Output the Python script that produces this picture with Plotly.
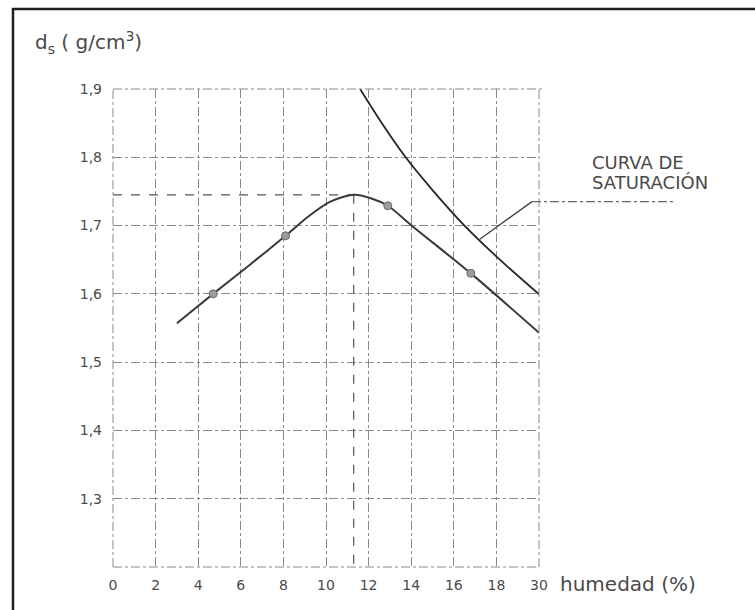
import plotly.graph_objects as go

# Proctor compaction test: dry density vs. moisture content
humidity_measured = [4.7, 8.1, 12.9, 16.8]
density_measured = [1.600, 1.685, 1.729, 1.630]

compaction_humidity = [3.0, 4.7, 6.4, 8.1, 9.2, 10.2, 11.3, 12.1, 12.9, 14.1, 16.8, 20.0]
compaction_density = [1.557, 1.600, 1.642, 1.685, 1.714, 1.735, 1.745, 1.740, 1.729, 1.698, 1.630, 1.543]

saturation_humidity = [11.6, 12.6, 13.74, 15.0, 16.5, 18.2, 20.05]
saturation_density = [1.900, 1.851, 1.800, 1.752, 1.700, 1.649, 1.598]

optimum_humidity = 11.3
max_density = 1.745

x_ticks = [0, 2, 4, 6, 8, 10, 12, 14, 16, 18, 20]
x_labels = ["0", "2", "4", "6", "8", "10", "12", "14", "16", "18", "30"]
y_ticks = [1.3, 1.4, 1.5, 1.6, 1.7, 1.8, 1.9]
y_labels = ["1,3", "1,4", "1,5", "1,6", "1,7", "1,8", "1,9"]

X_RANGE = [0, 20]
Y_RANGE = [1.2, 1.9]

W, H = 755, 610
ML, MR, MT, MB = 113, 216, 89, 43
PW, PH = W - ML - MR, H - MT - MB

FONT = "DejaVu Sans"
TEXT = "#4a4a4a"
GRID = "#8a8a8a"


def px_x(px):
    return (px - ML) / PW


def px_y(py):
    return (H - MB - py) / PH


def dom_x(v):
    return (v - X_RANGE[0]) / (X_RANGE[1] - X_RANGE[0])


def dom_y(v):
    return (v - Y_RANGE[0]) / (Y_RANGE[1] - Y_RANGE[0])


fig = go.Figure()

# optimum moisture / maximum density guides
fig.add_trace(go.Scatter(
    x=[X_RANGE[0], optimum_humidity], y=[max_density, max_density],
    mode="lines", line=dict(color="#555", width=1.3, dash="dash"),
    hoverinfo="skip", showlegend=False))
fig.add_trace(go.Scatter(
    x=[optimum_humidity, optimum_humidity], y=[max_density, Y_RANGE[0]],
    mode="lines", line=dict(color="#555", width=1.2, dash="dash"),
    hoverinfo="skip", showlegend=False))

fig.add_trace(go.Scatter(
    x=saturation_humidity, y=saturation_density, mode="lines",
    line=dict(color="#262626", width=1.8, shape="spline", smoothing=0.8),
    showlegend=False))

fig.add_trace(go.Scatter(
    x=compaction_humidity, y=compaction_density, mode="lines",
    line=dict(color="#3a3a3a", width=2, shape="spline", smoothing=0.8),
    showlegend=False))

fig.add_trace(go.Scatter(
    x=humidity_measured, y=density_measured, mode="markers",
    marker=dict(size=8, color="#9c9c9c", line=dict(color="#6a6a6a", width=1)),
    showlegend=False))

# grid border lines along the range edges
edge = dict(color=GRID, width=1, dash="dashdot")
fig.add_shape(type="line", xref="x domain", yref="y domain",
              x0=dom_x(X_RANGE[0]), y0=0, x1=dom_x(X_RANGE[0]), y1=1, line=edge)
fig.add_shape(type="line", xref="x domain", yref="y domain",
              x0=dom_x(X_RANGE[1]), y0=0, x1=dom_x(X_RANGE[1]), y1=1, line=edge)
fig.add_shape(type="line", xref="x domain", yref="y domain",
              x0=0, y0=dom_y(Y_RANGE[0]), x1=1, y1=dom_y(Y_RANGE[0]), line=edge)
fig.add_shape(type="line", xref="x domain", yref="y domain",
              x0=0, y0=dom_y(Y_RANGE[1]), x1=1.01, y1=dom_y(Y_RANGE[1]), line=edge)

# leader from the label to the saturation curve
leader_on_curve = (17.22, 1.68)
leader_corner = (19.67, 1.735)
leader_end_x = px_x(676)
fig.add_shape(type="line", xref="x domain", yref="y domain",
              x0=dom_x(leader_on_curve[0]), y0=dom_y(leader_on_curve[1]),
              x1=dom_x(leader_corner[0]), y1=dom_y(leader_corner[1]),
              line=dict(color="#444", width=1.4))
fig.add_shape(type="line", xref="x domain", yref="y domain",
              x0=dom_x(leader_corner[0]), y0=dom_y(leader_corner[1]),
              x1=leader_end_x, y1=dom_y(leader_corner[1]),
              line=dict(color="#666", width=1.2, dash="dashdot"))

# page frame
fig.add_shape(type="rect", xref="paper", yref="paper",
              x0=px_x(13), y0=px_y(614), x1=px_x(762), y1=px_y(9),
              line=dict(color="#1e1e1e", width=2.5))

fig.add_annotation(text="CURVA DE", xref="paper", yref="paper",
                   x=px_x(590), y=px_y(162), xanchor="left", yanchor="middle",
                   showarrow=False, font=dict(family=FONT, size=18, color=TEXT))
fig.add_annotation(text="SATURACIÓN", xref="paper", yref="paper",
                   x=px_x(590), y=px_y(182), xanchor="left", yanchor="middle",
                   showarrow=False, font=dict(family=FONT, size=18, color=TEXT))
fig.add_annotation(text="d<sub>s</sub> ( g/cm<sup>3</sup>)", xref="paper", yref="paper",
                   x=px_x(33), y=px_y(43), xanchor="left", yanchor="middle",
                   showarrow=False, font=dict(family=FONT, size=20, color=TEXT))
fig.add_annotation(text="humedad (%)", xref="paper", yref="paper",
                   x=px_x(558), y=px_y(584), xanchor="left", yanchor="middle",
                   showarrow=False, font=dict(family=FONT, size=20, color=TEXT))

grid = dict(showgrid=True, gridcolor=GRID, gridwidth=1, griddash="dashdot",
            zeroline=False, showline=False, ticks="",
            tickfont=dict(family=FONT, size=14, color=TEXT))

fig.update_xaxes(range=X_RANGE, tickvals=x_ticks, ticktext=x_labels,
                 ticklabelstandoff=8, **grid)
fig.update_yaxes(range=Y_RANGE, tickvals=y_ticks, ticktext=y_labels,
                 ticklabelstandoff=10, **grid)

fig.update_layout(
    width=W, height=H,
    margin=dict(l=ML, r=MR, t=MT, b=MB, pad=0),
    paper_bgcolor="white", plot_bgcolor="white",
    font=dict(family=FONT, color=TEXT),
)

fig.write_html("out.html")
